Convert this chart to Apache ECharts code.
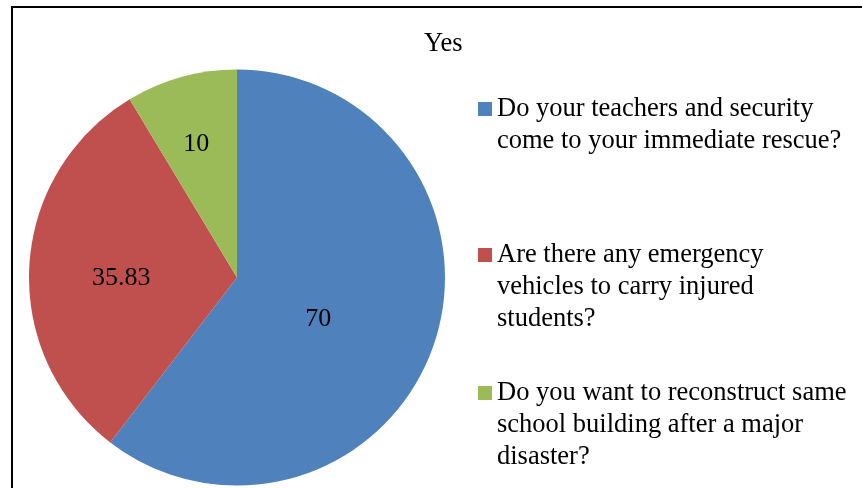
<!DOCTYPE html>
<html>
<head>
<meta charset="utf-8">
<title>Yes</title>
<script src="https://cdn.jsdelivr.net/npm/echarts@6/dist/echarts.min.js"></script>
<style>
  html, body { margin: 0; padding: 0; background: #ffffff; }
  #chart { width: 862px; height: 488px; }
</style>
</head>
<body>
<div id="chart"></div>
<script>
// Survey answers counted as "Yes"
const categories = [
  'Do your teachers and security come to your immediate rescue?',
  'Are there any emergency vehicles to carry injured students?',
  'Do you want to reconstruct same school building after a major disaster?'
];
const legendLines = [
  'Do your teachers and security\ncome to your immediate rescue?',
  'Are there any emergency\nvehicles to carry injured\nstudents?',
  'Do you want to reconstruct same\nschool building after a major\ndisaster?'
];
const values = [70, 35.83, 10];
const colors = ['#4F81BD', '#C0504D', '#9BBB59'];
const chartTitle = 'Yes';

const FONT = '"Liberation Serif", "Times New Roman", serif';
const LINE_H = 32;

// per-slice nudges for the value labels (best-fit placement)
const labelNudge = [[-20, 7], [-9, 7], [-12, -30]];

// one legend block per answer; blank lines are prepended so the
// vertically-centred text puts its first line level with the icon
const legendTops = [61, 175, 313];
const legends = categories.map((name, i) => {
  const lines = legendLines[i].split('\n').length;
  const text = '\n'.repeat(lines - 1) + legendLines[i];
  return {
    orient: 'vertical',
    left: 478,
    top: legendTops[i],
    padding: 0,
    itemWidth: 14,
    itemHeight: 14,
    icon: 'rect',
    selectedMode: false,
    data: [name],
    formatter: () => text,
    textStyle: {
      fontFamily: FONT,
      fontSize: 26.5,
      color: '#000000',
      lineHeight: LINE_H
    }
  };
});

const chart = echarts.init(document.getElementById('chart'), null, { renderer: 'canvas' });
chart.setOption({
  animation: false,
  backgroundColor: '#ffffff',
  title: {
    text: chartTitle,
    left: 424,
    top: 31,
    padding: 0,
    textStyle: { fontFamily: FONT, fontSize: 26.5, fontWeight: 'normal', color: '#000000' }
  },
  graphic: [{
    type: 'rect',
    shape: { x: 12, y: 7, width: 900, height: 600 },
    style: { fill: 'none', stroke: '#000000', lineWidth: 2 },
    silent: true
  }],
  legend: legends,
  series: [{
    type: 'pie',
    center: [237, 277.5],
    radius: [0, 208],
    startAngle: 90,
    clockwise: true,
    avoidLabelOverlap: false,
    emphasis: { disabled: true },
    itemStyle: { borderWidth: 0 },
    label: {
      show: true,
      position: 'inside',
      formatter: '{c}',
      fontFamily: FONT,
      fontSize: 26,
      color: '#000000'
    },
    labelLine: { show: false },
    labelLayout: (p) => ({ dx: labelNudge[p.dataIndex][0], dy: labelNudge[p.dataIndex][1] }),
    data: categories.map((name, i) => ({
      name: name,
      value: values[i],
      itemStyle: { color: colors[i] }
    }))
  }]
});
</script>
</body>
</html>
